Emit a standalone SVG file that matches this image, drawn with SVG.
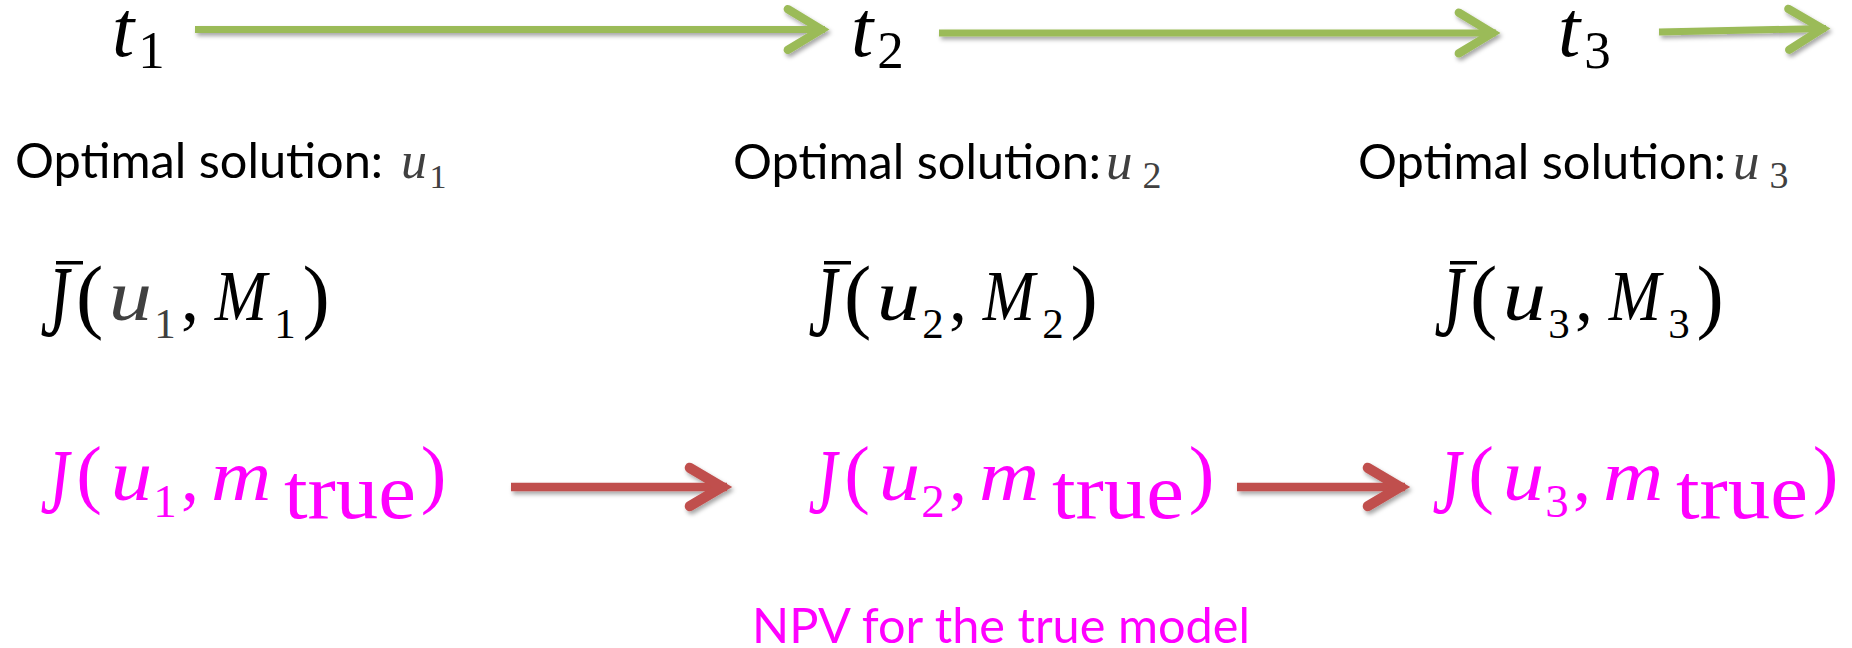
<svg xmlns="http://www.w3.org/2000/svg" width="1852" height="648" viewBox="0 0 1852 648">
<defs>
<style>
.m{font-family:"Liberation Serif",serif;font-style:italic;}
.r{font-family:"Liberation Serif",serif;font-style:normal;}
.c{text-anchor:middle;}
.s{font-family:Lato,"Open Sans",sans-serif;}
.g{fill:#404040;}
.k{fill:#000;}
.p{fill:#FF00FF;}
.gl{stroke:#9BBB59;stroke-width:7;fill:none;}
.rl{stroke:#C0504D;stroke-width:8.5;fill:none;}
</style>
<filter id="sh" x="-5%" y="-50%" width="110%" height="200%">
<feDropShadow dx="2" dy="3" stdDeviation="2" flood-color="#000" flood-opacity="0.35"/>
</filter>
<marker id="ag" markerUnits="userSpaceOnUse" markerWidth="60" markerHeight="60" viewBox="-45 -25 50 50" refX="0" refY="0" orient="auto" overflow="visible">
<path d="M-31,-17 L-3,0 L-31,17" fill="none" stroke="#9BBB59" stroke-width="7" stroke-linecap="round" stroke-linejoin="miter"/>
</marker>
<marker id="ar" markerUnits="userSpaceOnUse" markerWidth="60" markerHeight="60" viewBox="-45 -25 50 50" refX="0" refY="0" orient="auto" overflow="visible">
<path d="M-31,-16 L-4,0 L-31,16" fill="none" stroke="#C0504D" stroke-width="8.5" stroke-linecap="round" stroke-linejoin="miter"/>
</marker>
</defs>
<rect width="1852" height="648" fill="#fff"/>

<g id="connectors" filter="url(#sh)">
<line class="gl" x1="195" y1="29.5" x2="825" y2="29.5" marker-end="url(#ag)"/>
<line class="gl" x1="939" y1="33" x2="1496" y2="33" marker-end="url(#ag)"/>
<line class="gl" x1="1659" y1="32" x2="1826" y2="28.5" marker-end="url(#ag)"/>
<line class="rl" x1="511" y1="487" x2="727" y2="487" marker-end="url(#ar)"/>
<line class="rl" x1="1237" y1="487" x2="1405" y2="487" marker-end="url(#ar)"/>
</g>

<g id="t1"><text class="m k" x="112" y="56" font-size="80">t</text><text class="r k c" x="151.5" y="68" font-size="53">1</text></g>
<g id="t2"><text class="m k" x="851" y="56" font-size="80">t</text><text class="r k c" x="890.5" y="68" font-size="53">2</text></g>
<g id="t3"><text class="m k" x="1558" y="56" font-size="80">t</text><text class="r k c" x="1597.5" y="68" font-size="53">3</text></g>

<g id="opt1"><text class="s k" x="15" y="178" font-size="49" textLength="368" lengthAdjust="spacingAndGlyphs">Optimal solution:</text><text class="m g" x="401" y="178" font-size="52">u</text><text class="r g c" x="438" y="188" font-size="34">1</text></g>
<g id="opt2"><text class="s k" x="733" y="179" font-size="49" textLength="368" lengthAdjust="spacingAndGlyphs">Optimal solution:</text><text class="m g" x="1106" y="179" font-size="53">u</text><text class="r g c" x="1152" y="188" font-size="38">2</text></g>
<g id="opt3"><text class="s k" x="1358" y="179" font-size="49" textLength="368" lengthAdjust="spacingAndGlyphs">Optimal solution:</text><text class="m g" x="1733" y="179" font-size="53">u</text><text class="r g c" x="1779" y="188" font-size="38">3</text></g>

<g id="jbar1" transform="translate(40,0)">
<text class="m k" transform="translate(0.4,336) scale(0.9,1.4)" font-size="72">J</text><rect x="16" y="261" width="27" height="3.5" fill="#000"/>
<text class="r k" x="36" y="322.5" font-size="82">(</text>
<text class="m g" transform="translate(68.7,320) scale(1.2,1)" font-size="72">u</text><text class="r g c" x="125" y="338" font-size="43">1</text>
<text class="r k" x="141" y="320" font-size="72">,</text>
<text class="m k" transform="translate(174.8,320) scale(0.87,1)" font-size="72">M</text><text class="r k c" x="245" y="338" font-size="43">1</text>
<text class="r k" x="262.6" y="322.5" font-size="82">)</text>
</g>
<g id="jbar2" transform="translate(808,0)">
<text class="m k" transform="translate(0.4,336) scale(0.9,1.4)" font-size="72">J</text><rect x="16" y="261" width="27" height="3.5" fill="#000"/>
<text class="r k" x="36" y="322.5" font-size="82">(</text>
<text class="m k" transform="translate(68.7,320) scale(1.2,1)" font-size="72">u</text><text class="r k c" x="125" y="338" font-size="43">2</text>
<text class="r k" x="141" y="320" font-size="72">,</text>
<text class="m k" transform="translate(174.8,320) scale(0.87,1)" font-size="72">M</text><text class="r k c" x="245" y="338" font-size="43">2</text>
<text class="r k" x="262.6" y="322.5" font-size="82">)</text>
</g>
<g id="jbar3" transform="translate(1434,0)">
<text class="m k" transform="translate(0.4,336) scale(0.9,1.4)" font-size="72">J</text><rect x="16" y="261" width="27" height="3.5" fill="#000"/>
<text class="r k" x="36" y="322.5" font-size="82">(</text>
<text class="m k" transform="translate(68.7,320) scale(1.2,1)" font-size="72">u</text><text class="r k c" x="125" y="338" font-size="43">3</text>
<text class="r k" x="141" y="320" font-size="72">,</text>
<text class="m k" transform="translate(174.8,320) scale(0.87,1)" font-size="72">M</text><text class="r k c" x="245" y="338" font-size="43">3</text>
<text class="r k" x="262.6" y="322.5" font-size="82">)</text>
</g>

<g id="jtrue1" transform="translate(40,0)">
<text class="m p" transform="translate(0.4,513) scale(0.9,1.3)" font-size="72">J</text>
<text class="r p" x="36.3" y="499.4" font-size="77">(</text>
<text class="m p" transform="translate(70.8,500) scale(1.15,1)" font-size="72">u</text><text class="r p c" x="125" y="517" font-size="47">1</text>
<text class="r p" x="141" y="500" font-size="72">,</text>
<text class="m p" transform="translate(171,500) scale(1.16,1)" font-size="72">m</text>
<text class="r p" x="244" y="518" font-size="78" textLength="132" lengthAdjust="spacingAndGlyphs">true</text>
<text class="r p" x="380.8" y="499.4" font-size="77">)</text>
</g>
<g id="jtrue2" transform="translate(808,0)">
<text class="m p" transform="translate(0.4,513) scale(0.9,1.3)" font-size="72">J</text>
<text class="r p" x="36.3" y="499.4" font-size="77">(</text>
<text class="m p" transform="translate(70.8,500) scale(1.15,1)" font-size="72">u</text><text class="r p c" x="125" y="517" font-size="47">2</text>
<text class="r p" x="141" y="500" font-size="72">,</text>
<text class="m p" transform="translate(171,500) scale(1.16,1)" font-size="72">m</text>
<text class="r p" x="244" y="518" font-size="78" textLength="132" lengthAdjust="spacingAndGlyphs">true</text>
<text class="r p" x="380.8" y="499.4" font-size="77">)</text>
</g>
<g id="jtrue3" transform="translate(1432,0)">
<text class="m p" transform="translate(0.4,513) scale(0.9,1.3)" font-size="72">J</text>
<text class="r p" x="36.3" y="499.4" font-size="77">(</text>
<text class="m p" transform="translate(70.8,500) scale(1.15,1)" font-size="72">u</text><text class="r p c" x="125" y="517" font-size="47">3</text>
<text class="r p" x="141" y="500" font-size="72">,</text>
<text class="m p" transform="translate(171,500) scale(1.16,1)" font-size="72">m</text>
<text class="r p" x="244" y="518" font-size="78" textLength="132" lengthAdjust="spacingAndGlyphs">true</text>
<text class="r p" x="380.8" y="499.4" font-size="77">)</text>
</g>

<g id="npv"><text class="s p" x="752" y="643" font-size="48" textLength="498" lengthAdjust="spacingAndGlyphs">NPV for the true model</text></g>
</svg>
